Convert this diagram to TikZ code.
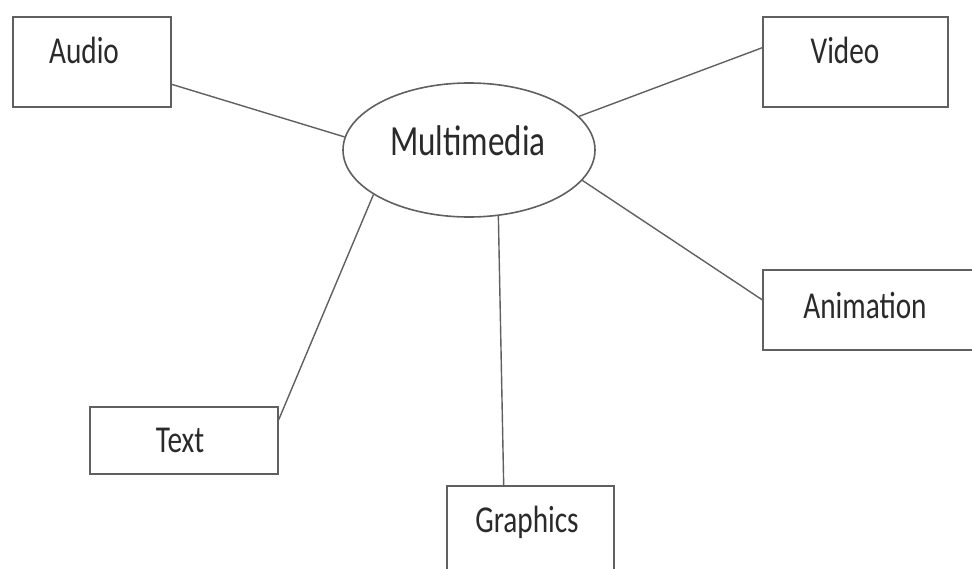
\documentclass[tikz,border=0pt]{standalone}
\usepackage{fontspec}
\setmainfont{Carlito}[FakeStretch=0.77]
\usetikzlibrary{shapes.geometric,calc}
\definecolor{edgecol}{HTML}{606060}
\definecolor{txtcol}{HTML}{2A2A2A}
\begin{document}
\begin{tikzpicture}[x=1pt,y=-1pt,
  box/.style={draw=edgecol, line width=1.6pt, rectangle, inner sep=0pt, fill=white},
  oval/.style={draw=edgecol, line width=1.6pt, ellipse, inner sep=0pt, minimum width=252pt, minimum height=134pt},
  lbl/.style={text=txtcol, font=\fontsize{38}{40}\selectfont, inner sep=0pt},
  link/.style={draw=edgecol, line width=1.4pt}]
\useasboundingbox (0,0) rectangle (972,568);
\clip (0,0) rectangle (972,568);
\fill[white] (0,0) rectangle (972,568);
% boxes
\node[box, minimum width=158pt, minimum height=90pt] (audio) at (92,62) {};
\node[box, minimum width=185pt, minimum height=90pt] (video) at (855.5,62) {};
\node[box, minimum width=210pt, minimum height=80pt] (anim) at (868,310) {};
\node[box, minimum width=188pt, minimum height=67pt] (textb) at (184,440.5) {};
\node[box, minimum width=167pt, minimum height=90pt] (graph) at (530.5,531) {};
\node[oval] (mm) at (469,150) {};
% labels
\node[lbl] (laudio) at (84,50) {Audio};
\node[lbl] (lvideo) at (845,50) {Video};
\node[lbl] (lanim) at (865,305) {Animation};
\node[lbl] (ltext) at (180,440) {Text};
\node[lbl] (lgraph) at (527,522) {Graphics};
\node[lbl, font=\fontsize{43}{45}\selectfont] (lmm) at (468,141) {Multimedia};
% connector end points on boxes
\coordinate (pa) at ($(audio.north east)!0.744!(audio.south east)$);
\coordinate (pv) at ($(video.north west)!0.344!(video.south west)$);
\coordinate (pn) at ($(anim.north west)!0.375!(anim.south west)$);
\coordinate (pt) at ($(textb.north east)!0.194!(textb.south east)$);
\coordinate (pg) at ($(graph.north west)!0.341!(graph.north east)$);
% connectors
\draw[link] (pa) -- (mm.174);
\draw[link] (pv) -- (mm.17);
\draw[link] (pn) -- (mm.-15);
\draw[link] (pt) -- (mm.205);
\draw[link] (pg) -- (mm.-66);
\end{tikzpicture}
\end{document}
